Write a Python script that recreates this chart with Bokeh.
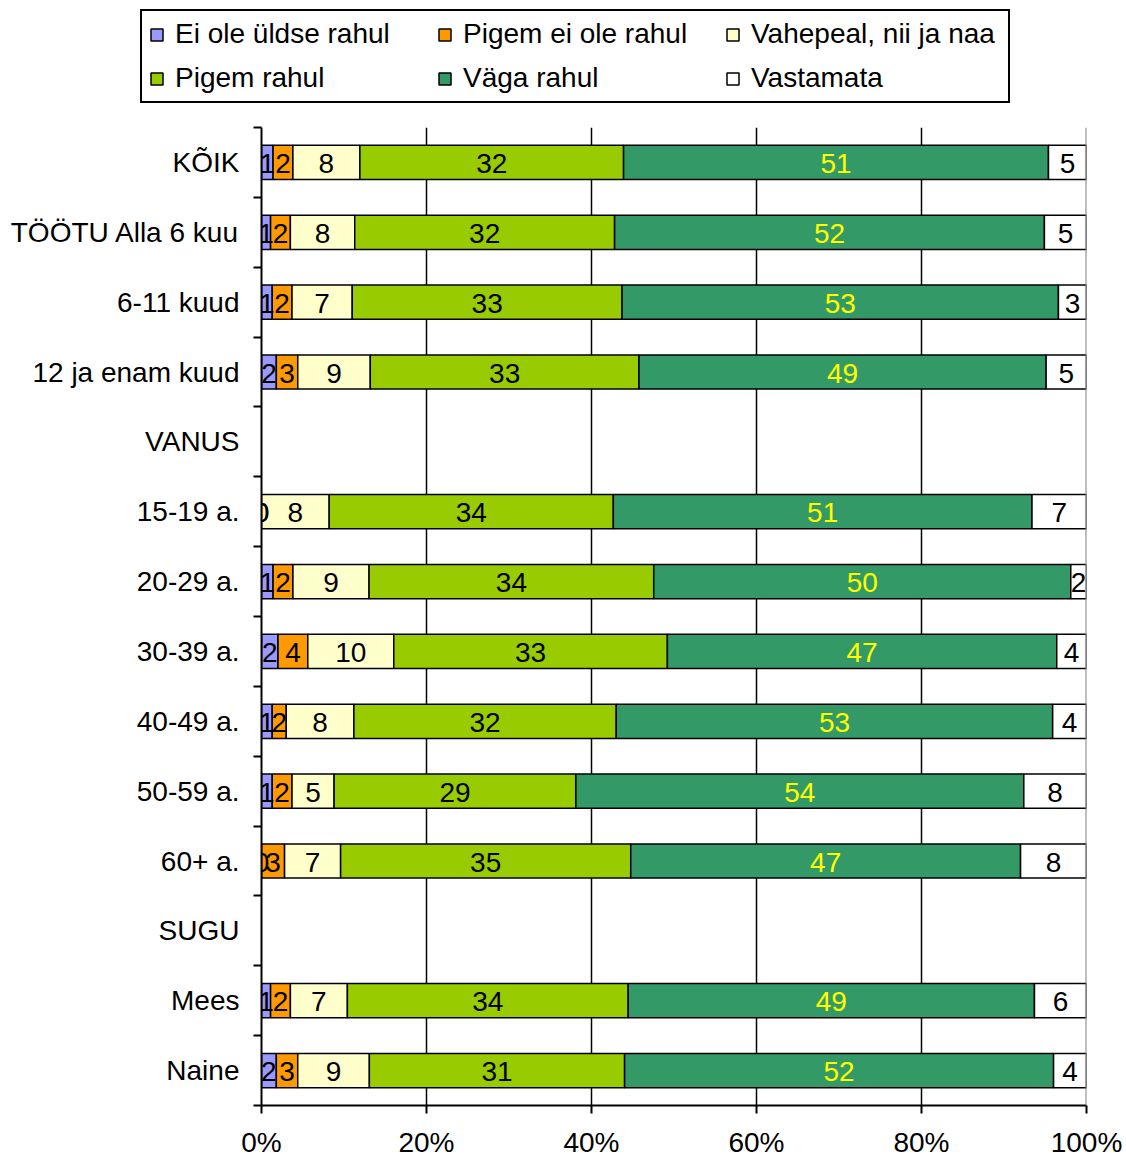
from bokeh.plotting import figure
from bokeh.layouts import column
from bokeh.models import (Range1d, LinearAxis, FixedTicker,
                          Legend, LegendItem, Span, ColumnDataSource)
from bokeh.core.properties import value
from bokeh.embed import file_html
from bokeh.resources import INLINE

FONT = "Liberation Sans"
FS = "28px"

categories = ["KÕIK", "TÖÖTU Alla 6 kuu", "6-11 kuud", "12 ja enam kuud", "VANUS",
              "15-19 a.", "20-29 a.", "30-39 a.", "40-49 a.", "50-59 a.", "60+ a.",
              "SUGU", "Mees", "Naine"]

series_names = ["Ei ole üldse rahul", "Pigem ei ole rahul", "Vahepeal, nii ja naa",
                "Pigem rahul", "Väga rahul", "Vastamata"]
series_colors = ["#9999FF", "#FF9900", "#FFFFCC", "#99CC00", "#339966", "#FFFFFF"]
label_colors = ["black", "black", "black", "black", "#FFFF00", "black"]

# None = heading row without a bar
ei_ole_yldse = [1.4, 1.1, 1.3, 1.8, None, 0.0, 1.4, 2.0, 1.3, 1.3, 0.0, None, 1.1, 1.8]
pigem_ei_ole = [2.4, 2.4, 2.4, 2.6, None, 0.0, 2.4, 3.6, 1.7, 2.4, 2.8, None, 2.4, 2.6]
vahepeal = [8.1, 7.8, 7.3, 8.8, None, 8.2, 9.2, 10.4, 8.2, 5.1, 6.8, None, 6.9, 8.7]
pigem_rahul = [31.9, 31.5, 32.7, 32.6, None, 34.4, 34.4, 33.1, 31.8, 29.3, 35.2, None, 34.0, 31.0]
vaga_rahul = [51.4, 52.1, 52.9, 49.4, None, 50.7, 50.4, 47.1, 52.9, 54.3, 47.3, None, 49.2, 52.1]
vastamata = [4.6, 5.1, 3.4, 4.9, None, 6.6, 1.9, 3.6, 4.1, 7.6, 8.0, None, 6.3, 4.0]

all_series = [ei_ole_yldse, pigem_ei_ole, vahepeal, pigem_rahul, vaga_rahul, vastamata]

n = len(categories)
centers = [n - i - 0.5 for i in range(n)]   # category i centre, first category on top

LEG_H = 110
p = figure(width=1126, height=1160 - LEG_H,
           y_range=Range1d(0, n), x_range=Range1d(0, 100),
           output_backend="svg", toolbar_location=None,
           y_axis_location=None,
           min_border_left=261, min_border_right=40,
           min_border_top=127 - LEG_H, min_border_bottom=53)
p.frame_align = False
p.outline_line_color = None
p.background_fill_color = "white"
p.border_fill_color = "white"

# 100% stacking
rows = [i for i in range(n) if ei_ole_yldse[i] is not None]
totals = {i: sum(s[i] for s in all_series) for i in rows}
cum = {i: 0.0 for i in rows}

sources = []
for s in all_series:
    ys, lefts, rights, mids, labels = [], [], [], [], []
    for i in rows:
        w = s[i] / totals[i] * 100.0
        ys.append(centers[i])
        lefts.append(cum[i])
        rights.append(cum[i] + w)
        mids.append(cum[i] + w / 2)
        labels.append(f"{round(s[i]):d}")
        cum[i] += w
    sources.append(ColumnDataSource(dict(y=ys, left=lefts, right=rights, mid=mids, label=labels)))

for src, col in zip(sources, series_colors):
    p.hbar(y="y", left="left", right="right", height=0.49, source=src,
           fill_color=col, line_color="black", line_width=1.5)
for src, lcol in zip(sources, label_colors):
    p.text(x="mid", y="y", text="label", source=src, text_align="center",
           text_baseline="middle", text_font=value(FONT), text_font_size=FS,
           text_color=lcol, y_offset=1)

# grid
p.ygrid.grid_line_color = None
p.xgrid.ticker = FixedTicker(ticks=[20, 40, 60, 80])
p.xgrid.grid_line_color = "black"
p.xgrid.grid_line_width = 1.5
p.add_layout(Span(location=100, dimension="height", line_color="#808080", line_width=2))

# x axis
xa = p.xaxis[0]
xa.ticker = FixedTicker(ticks=[0, 20, 40, 60, 80, 100])
xa.major_label_overrides = {t: f"{t}%" for t in [0, 20, 40, 60, 80, 100]}
xa.major_tick_out = 8
xa.major_tick_in = 0
xa.minor_tick_line_color = None
xa.axis_line_width = 2
xa.major_tick_line_width = 2
xa.major_label_text_font = FONT
xa.major_label_text_font_size = FS
xa.major_label_text_color = "black"
xa.major_label_standoff = 13

# y axis: ticks at category boundaries + category labels at centres
tick_axis = LinearAxis(ticker=FixedTicker(ticks=list(range(n + 1))),
                       major_label_overrides={i: "" for i in range(n + 1)},
                       major_tick_out=8, major_tick_in=0, minor_tick_line_color=None,
                       axis_line_width=2, major_tick_line_width=2,
                       major_label_standoff=0, major_label_text_font_size="1px")
p.add_layout(tick_axis, "left")
cat_axis = LinearAxis(ticker=FixedTicker(ticks=centers),
                      major_label_overrides={c: lab for c, lab in zip(centers, categories)},
                      axis_line_color=None, major_tick_line_color=None,
                      minor_tick_line_color=None, major_label_standoff=8,
                      major_label_text_font=FONT, major_label_text_font_size=FS,
                      major_label_text_color="black")
p.add_layout(cat_axis, "left")

# legend strip on top (its renderers are hidden; only their legend glyphs show)
pl = figure(width=1126, height=LEG_H, x_range=Range1d(0, 100), y_range=Range1d(-10, -9),
            output_backend="svg", toolbar_location=None,
            x_axis_location=None, y_axis_location=None, min_border=0)
pl.frame_align = False
pl.outline_line_color = None
pl.grid.visible = False
leg_renderers = []
for src, col in zip(sources, series_colors):
    leg_renderers.append(pl.hbar(y="y", left="left", right="right", height=0.49, source=src,
                                 fill_color=col, line_color="black", line_width=1.5,
                                 visible=False))
legend = Legend(items=[LegendItem(label=nm, renderers=[r]) for nm, r in zip(series_names, leg_renderers)],
                location=(140, LEG_H - 103), orientation="horizontal", ncols=3,
                label_text_font=FONT, label_text_font_size=FS, label_text_color="black",
                glyph_width=15, glyph_height=15, label_standoff=11,
                label_width=250, label_height=28, spacing=12, padding=7, margin=0,
                border_line_color="black", border_line_width=2, border_line_alpha=1.0,
                inactive_fill_alpha=0.0,
                background_fill_color="white", background_fill_alpha=1.0)
pl.add_layout(legend, "center")

layout = column(pl, p, spacing=0)
open("out.html", "w").write(file_html(layout, INLINE))
